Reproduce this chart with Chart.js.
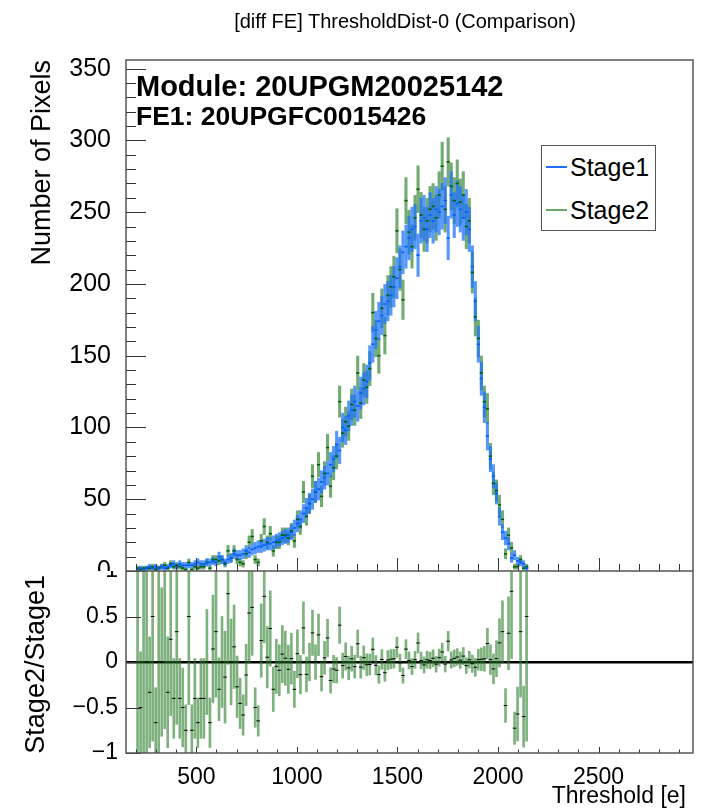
<!DOCTYPE html>
<html>
<head>
<meta charset="utf-8">
<script src="https://cdn.jsdelivr.net/npm/chart.js@4.4.1/dist/chart.umd.min.js"></script>
<style>
  body { margin: 0; background: #fff; }
  #wrap { position: relative; width: 703px; height: 811px; overflow: hidden; font-family: "Liberation Sans", Arial, sans-serif; }
  .pad { position: absolute; left: 0; width: 703px; overflow: hidden; }
  canvas { position: absolute; left: 0; }
  .txt { position: absolute; white-space: nowrap; line-height: 1; color: #000; }
  .rot { transform-origin: 0 0; transform: rotate(-90deg); text-align: right; width: 300px; }
  #legend { position: absolute; left: 541px; top: 145px; width: 113px; height: 84px; border: 1px solid #555; background: #fff; }
  .lgline { position: absolute; left: 4px; width: 21px; height: 1.5px; }
</style>
</head>
<body>
<div id="wrap">
  <div class="pad" style="top:0; height:571px;">
    <canvas id="top" width="703" height="600" style="top:0"></canvas>
  </div>
  <div class="pad" style="top:571px; height:240px;">
    <canvas id="ratio" width="703" height="270" style="top:-30px"></canvas>
  </div>

  <div class="txt" style="left:0; width:810px; text-align:center; top:11px; font-size:20px;">[diff FE] ThresholdDist-0 (Comparison)</div>
  <div class="txt" style="left:136px; top:72px; font-size:29px; font-weight:bold;">Module: 20UPGM20025142</div>
  <div class="txt" style="left:136px; top:103px; font-size:26.5px; font-weight:bold;">FE1: 20UPGFC0015426</div>
  <div class="txt rot" style="left:28px; top:360px; font-size:27px;">Number of Pixels</div>
  <div class="txt rot" style="left:22px; top:875px; font-size:27px;">Stage2/Stage1</div>
  <div class="txt" style="right:17px; top:784px; font-size:23px;">Threshold [e]</div>

  <div id="legend">
    <div class="lgline" style="top:20px; background:#1f6fff;"></div>
    <div class="txt" style="left:28px; top:9px; font-size:25px;">Stage1</div>
    <div class="lgline" style="top:63px; background:#6aa86a;"></div>
    <div class="txt" style="left:28px; top:52px; font-size:25px;">Stage2</div>
  </div>
</div>
<script>
// bin centres of the threshold histogram [e]
const binCenters = [207.5,222.5,237.5,252.5,267.5,282.5,297.5,312.5,327.5,342.5,
  357.5,372.5,387.5,402.5,417.5,432.5,447.5,462.5,477.5,492.5,
  507.5,522.5,537.5,552.5,567.5,582.5,597.5,612.5,627.5,642.5,
  657.5,672.5,687.5,702.5,717.5,732.5,747.5,762.5,777.5,792.5,
  807.5,822.5,837.5,852.5,867.5,882.5,897.5,912.5,927.5,942.5,
  957.5,972.5,987.5,1002.5,1017.5,1032.5,1047.5,1062.5,1077.5,1092.5,
  1107.5,1122.5,1137.5,1152.5,1167.5,1182.5,1197.5,1212.5,1227.5,1242.5,
  1257.5,1272.5,1287.5,1302.5,1317.5,1332.5,1347.5,1362.5,1377.5,1392.5,
  1407.5,1422.5,1437.5,1452.5,1467.5,1482.5,1497.5,1512.5,1527.5,1542.5,
  1557.5,1572.5,1587.5,1602.5,1617.5,1632.5,1647.5,1662.5,1677.5,1692.5,
  1707.5,1722.5,1737.5,1752.5,1767.5,1782.5,1797.5,1812.5,1827.5,1842.5,
  1857.5,1872.5,1887.5,1902.5,1917.5,1932.5,1947.5,1962.5,1977.5,1992.5,
  2007.5,2022.5,2037.5,2052.5,2067.5,2082.5,2097.5,2112.5,2127.5,2142.5];

const stage1Counts = [1,2,1,2,3,2,3,2,3,2, 3,4,5,3,5,4,4,4,4,5,
  6,5,5,6,6,7,6,10,8,6, 8,9,12,11,11,12,14,13,15,16,
  17,17,18,19,19,20,21,22,23,24, 25,27,30,33,36,40,44,47,50,55,
  57,62,65,68,74,78,88,84,100,98, 108,112,118,115,124,127,132,145,158,168,
  174,178,186,188,192,198,204,212,222,226, 232,238,240,220,244,246,238,248,244,252,
  250,254,258,232,262,248,256,252,246,250, 238,212,188,158,134,114,94,78,66,54,
  38,27,23,19,9,11,7,6,5,2];

const stage2Counts = [2,1,2,2,2,3,1,2,3,4, 2,5,3,4,3,2,1,6,1,3,
  2,3,3,6,2,8,8,7,8,5, 14,9,14,8,6,5,12,20,24,8,
  6,21,31,20,26,14,20,20,25,25, 23,28,21,36,31,55,38,47,66,55,
  74,52,68,86,59,72,80,118,96,104, 101,116,112,138,117,133,128,141,180,162,
  150,183,164,192,198,205,237,210,189,258, 236,226,246,266,248,238,244,252,254,246,
  262,282,252,285,268,258,270,257,262,240, 244,208,177,162,138,118,113,80,61,56,
  46,36,12,25,16,3,3,8,2,3];

const xRange = [150, 2970];
const countRange = [0, 356];
const ratioRange = [-1, 1];
const thresholdTicks = [500, 1000, 1500, 2000, 2500];
const countTicks = [0, 50, 100, 150, 200, 250, 300, 350];
const ratioTicks = [-1, -0.5, 0, 0.5, 1];

// poisson errors, as in the ROOT histograms
function errBars(counts) {
  return binCenters.map((c, i) => {
    const e = Math.sqrt(counts[i]);
    return { x: c, y: [counts[i] - e, counts[i] + e] };
  });
}
function centres(counts) {
  return binCenters.map((c, i) => ({ x: c, y: counts[i] }));
}

// Stage2/Stage1 - 1 with uncorrelated error propagation
const ratioPoints = [];
const ratioErrors = [];
for (let i = 0; i < binCenters.length; i++) {
  const a = stage1Counts[i], b = stage2Counts[i];
  const r = b / a;
  const e = r * Math.sqrt(1 / a + 1 / b);
  ratioPoints.push({ x: binCenters[i], y: r - 1 });
  ratioErrors.push({ x: binCenters[i], y: [r - 1 - e, r - 1 + e] });
}

// frame + inward ROOT style ticks
const rootFrame = {
  id: 'rootFrame',
  afterDraw(chart, args, opts) {
    const ctx = chart.ctx;
    const a = chart.chartArea;
    const xs = chart.scales.x, ys = chart.scales.y;
    ctx.save();
    ctx.strokeStyle = '#333';
    ctx.lineWidth = 1;
    ctx.beginPath();
    for (let v = Math.ceil(xs.min / opts.xMinor) * opts.xMinor; v <= xs.max; v += opts.xMinor) {
      const px = Math.round(xs.getPixelForValue(v)) + 0.5;
      const len = v % opts.xMajor === 0 ? opts.xMajorLen : opts.xMinorLen;
      ctx.moveTo(px, a.bottom);
      ctx.lineTo(px, a.bottom - len);
    }
    const n = Math.round((ys.max - ys.min) / opts.yMinor);
    for (let j = 0; j <= n; j++) {
      const v = ys.min + j * opts.yMinor;
      if (v > ys.max + 1e-9) break;
      const py = Math.round(ys.getPixelForValue(v)) + 0.5;
      const isMajor = Math.abs(v / opts.yMajor - Math.round(v / opts.yMajor)) < 1e-6;
      ctx.moveTo(a.left, py);
      ctx.lineTo(a.left + (isMajor ? opts.yMajorLen : opts.yMinorLen), py);
    }
    ctx.stroke();
    ctx.strokeStyle = '#555';
    ctx.lineWidth = 1.5;
    ctx.strokeRect(a.left, a.top, a.right - a.left, a.bottom - a.top);
    ctx.restore();
  }
};

const tickFont = size => ({ family: "'Liberation Sans', Arial, sans-serif", size: size });
const fixTicks = list => s => { s.ticks = list.map(v => ({ value: v })); };

new Chart(document.getElementById('top').getContext('2d'), {
  type: 'bar',
  data: {
    datasets: [
      { type: 'bar', label: 'Stage2 err', data: errBars(stage2Counts), backgroundColor: 'rgba(20,115,20,0.6)',
        barThickness: 2.4, grouped: false, order: 4 },
      { type: 'bar', label: 'Stage1 err', data: errBars(stage1Counts), backgroundColor: 'rgba(30,115,255,0.75)',
        barThickness: 2.4, grouped: false, order: 3 },
      { type: 'line', label: 'Stage2', data: centres(stage2Counts), showLine: false, pointStyle: 'line',
        pointRadius: 1.6, pointBorderWidth: 1.6, borderColor: 'rgb(0,95,0)', order: 2 },
      { type: 'line', label: 'Stage1', data: centres(stage1Counts), showLine: false, pointStyle: 'line',
        pointRadius: 1.6, pointBorderWidth: 1.6, borderColor: 'rgb(0,95,255)', order: 1 },
    ]
  },
  options: {
    responsive: false,
    animation: false,
    devicePixelRatio: 1,
    layout: { padding: { top: 60, right: 10, bottom: 29, left: 0 } },
    plugins: {
      legend: { display: false },
      tooltip: { enabled: false },
      rootFrame: { xMinor: 100, xMajor: 500, xMajorLen: 13, xMinorLen: 7,
                   yMinor: 10, yMajor: 50, yMajorLen: 20, yMinorLen: 10 }
    },
    scales: {
      x: { type: 'linear', min: xRange[0], max: xRange[1], offset: false, display: false },
      y: {
        min: countRange[0], max: countRange[1],
        grid: { display: false }, border: { display: false },
        afterBuildTicks: fixTicks(countTicks),
        ticks: { color: '#000', font: tickFont(25), padding: 7 },
        afterFit: s => { s.width = 126; }
      }
    }
  },
  plugins: [rootFrame]
});

new Chart(document.getElementById('ratio').getContext('2d'), {
  type: 'bar',
  data: {
    datasets: [
      { type: 'bar', label: 'ratio err', data: ratioErrors, backgroundColor: 'rgba(40,125,40,0.6)',
        barThickness: 2, grouped: false, order: 2 },
      { type: 'line', label: 'ratio', data: ratioPoints, showLine: false, pointStyle: 'line',
        pointRadius: 1.8, pointBorderWidth: 1, borderColor: '#000', order: 1 },
    ]
  },
  options: {
    responsive: false,
    animation: false,
    devicePixelRatio: 1,
    layout: { padding: { top: 30, right: 10, bottom: 0, left: 0 } },
    plugins: {
      legend: { display: false },
      tooltip: { enabled: false },
      rootFrame: { xMinor: 100, xMajor: 500, xMajorLen: 6, xMinorLen: 3.5,
                   yMinor: 0.5, yMajor: 0.5, yMajorLen: 15, yMinorLen: 15 }
    },
    scales: {
      x: {
        type: 'linear', min: xRange[0], max: xRange[1], offset: false,
        grid: { display: false }, border: { display: false },
        afterBuildTicks: fixTicks(thresholdTicks),
        ticks: { color: '#000', font: tickFont(23), padding: 3, maxRotation: 0, autoSkip: false,
                 callback: v => String(v) },
        afterFit: s => { s.height = 58; s.paddingLeft = 0; s.paddingRight = 0; }
      },
      y: {
        min: ratioRange[0], max: ratioRange[1], z: 1,
        grid: { drawTicks: false, lineWidth: 2.5,
                color: c => (c.tick && c.tick.value === 0 ? '#000' : 'rgba(0,0,0,0)') },
        border: { display: false },
        afterBuildTicks: fixTicks(ratioTicks),
        ticks: { color: '#000', font: tickFont(23), padding: 8,
                 callback: v => (v < 0 ? '\u2212' + Math.abs(v) : String(v)) },
        afterFit: s => { s.width = 126; }
      }
    }
  },
  plugins: [rootFrame]
});
</script>
</body>
</html>
